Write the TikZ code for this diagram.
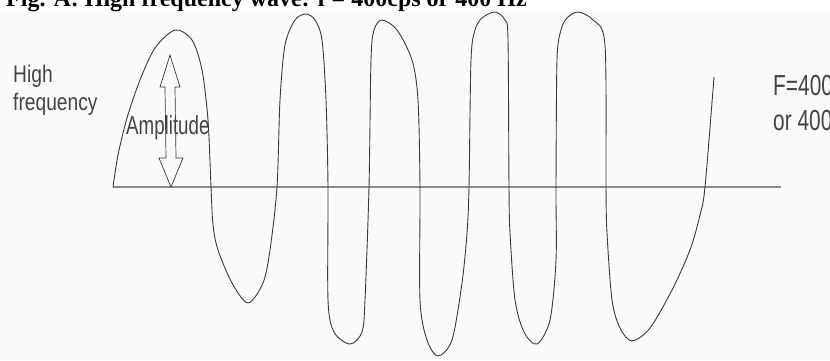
\documentclass[tikz,border=0pt]{standalone}
\usepackage{fontspec}
\setmainfont{Liberation Serif}
\newfontfamily\hfsans[FakeStretch=0.8]{Liberation Sans}
\newfontfamily\hfsansnarrow[FakeStretch=0.72]{Liberation Sans}
\definecolor{hfInk}{HTML}{3A3A3A}
\definecolor{hfAxis}{HTML}{8A8A8A}
\definecolor{hfText}{HTML}{444444}
\definecolor{hfPaper}{HTML}{FAFAFA}
\tikzset{
  hf wave/.style={draw=hfInk, line width=0.9pt},
  hf axis/.style={draw=hfAxis, line width=1.3pt},
  hf arrow/.style={draw=hfInk, line width=0.7pt, line join=miter},
  hf label/.style={font=\hfsans\fontsize{24}{28}\selectfont, text=hfText, inner sep=0pt},
  hf side label/.style={font=\hfsansnarrow\fontsize{29}{35}\selectfont, text=hfText, inner sep=0pt},
  hf caption/.style={font=\bfseries\fontsize{24}{27}\selectfont, text=black, inner sep=0pt},
}

\begin{document}
\begin{tikzpicture}[x=1pt,y=-1pt]
  \useasboundingbox (0,0) rectangle (830,360);
  \fill[hfPaper] (0,12) rectangle (830,360);
  % caption, cut off at the top edge
  \node[hf caption, anchor=base west] (cap) at (6,6) {Fig. A: High frequency wave: f = 400cps or 400 Hz};
  % time axis
  \coordinate (axL) at (113,187);
  \coordinate (axR) at (781,187);
  \draw[hf axis] (axL) -- (axR);
  % the wave, traced through its crossings and turning points
  \draw[hf wave] plot[smooth, tension=0.5] coordinates {
    (113,187) (118,155) (127,118) (140,80) (155,48) (175,30) (192,40) (202,70) (208,120) (211,187)
    (213,225) (218,250) (232,283) (248,303) (263,283) (270,250) (277,187)
    (280,100) (285,45) (295,20) (306,14) (315,20) (322,40) (326,100) (328,187)
    (328,300) (334,332) (350,344) (362,332) (365,300) (369,187)
    (371,60) (374,30) (382,20) (397,30) (412,60) (418,100) (420,187)
    (420,300) (427,340) (438,356) (452,340) (462,283) (467,233) (469,187)
    (471,60) (475,30) (482,18) (495,12) (505,20) (508,40) (509,187)
    (510,233) (515,300) (524,332) (537,344) (550,320) (556,260) (556,187)
    (557,60) (561,30) (567,18) (578,12) (593,20) (605,45) (606,187)
    (607,233) (612,300) (620,328) (632,341) (650,328) (672,290) (690,250) (700,215) (705,187)
    (714,77)};
  % amplitude arrow
  \coordinate (ampTop) at (170,55);
  \coordinate (ampBot) at (171,187);
  \draw[hf arrow] (ampTop) -- (180,87) -- (175,87) -- (176,158) -- (183,158) -- (ampBot)
    -- (159,158) -- (166,158) -- (165,87) -- (160,87) -- cycle;
  % labels (base anchor sits on the last line)
  \node[hf label, anchor=base west, align=left] (high) at (13,110) {High\\frequency};
  \node[hf label, font=\hfsansnarrow\fontsize{26}{30}\selectfont, anchor=base west] (amp) at (126,134) {Amplitude};
  \node[hf side label, anchor=base west, align=left] (freq) at (773,130) {F=400cps\\or 400Hz};
\end{tikzpicture}
\end{document}
